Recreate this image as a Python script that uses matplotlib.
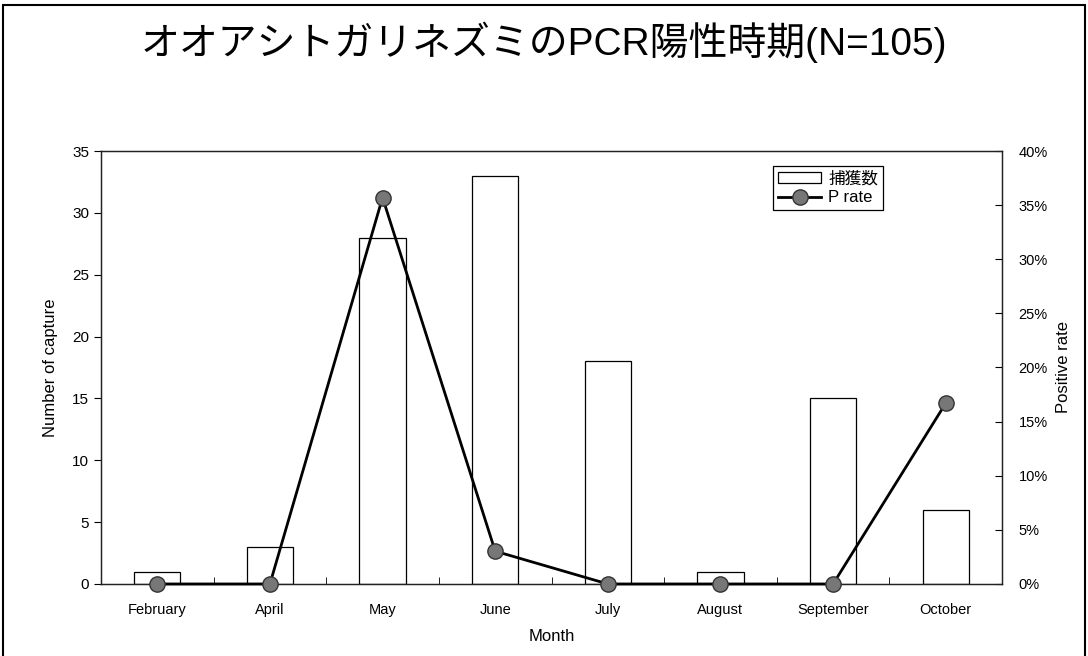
import matplotlib
matplotlib.use("Agg")
import matplotlib.pyplot as plt
from matplotlib.ticker import FixedLocator, PercentFormatter
import numpy as np

plt.rcParams['font.family'] = ['Liberation Sans', 'Noto Sans CJK JP', 'DejaVu Sans']

months = ["February", "April", "May", "June", "July", "August", "September", "October"]
captures = [1, 3, 28, 33, 18, 1, 15, 6]
positive_rate = [0.0, 0.0, 35.7, 3.03, 0.0, 0.0, 0.0, 16.7]
title = "オオアシトガリネズミのPCR陽性時期(N=105)"

fig = plt.figure(figsize=(10.88, 6.56), dpi=100)
ax = fig.add_axes([0.0928, 0.1098, 0.921 - 0.0928, 0.7698 - 0.1098])
x = np.arange(len(months))
bars = ax.bar(x, captures, width=0.41, facecolor="white", edgecolor="black",
              linewidth=0.9, label="捕獲数", zorder=2)
ax.set_xlim(-0.5, len(months) - 0.5)
ax.set_ylim(0, 35)
ax.set_yticks(np.arange(0, 36, 5))
ax.set_xticks(x)
ax.set_xticklabels(months, fontsize=10.5)
ax.xaxis.set_minor_locator(FixedLocator(np.arange(0.5, len(months) - 1, 1)))
ax.tick_params(axis='x', which='major', length=0, pad=14)
ax.tick_params(axis='x', which='minor', direction='in', length=5)
ax.tick_params(axis='y', direction='out', length=5, labelsize=11)
ax.set_xlabel("Month", fontsize=12, labelpad=8)
ax.set_ylabel("Number of capture", fontsize=12, labelpad=10)

ax2 = ax.twinx()
line, = ax2.plot(x, positive_rate, color="black", linewidth=2, marker="o",
                 markersize=11, markerfacecolor="#777777", markeredgecolor="#333333",
                 label="P rate", zorder=3, clip_on=False)
ax2.set_ylim(0, 40)
ax2.set_yticks(np.arange(0, 41, 5))
ax2.yaxis.set_major_formatter(PercentFormatter(decimals=0))
ax2.tick_params(axis='y', direction='in', length=5, labelsize=10.5, pad=12)
ax2.set_ylabel("Positive rate", fontsize=12, labelpad=6)

for a in (ax, ax2):
    for s in a.spines.values():
        s.set_linewidth(0.9)
        s.set_color("#222222")

leg = ax2.legend([bars, line], ["捕獲数", "P rate"], loc="upper right",
                 bbox_to_anchor=(0.877, 0.985), fontsize=12, frameon=True,
                 fancybox=False, edgecolor="black", framealpha=1,
                 handlelength=2.6, borderpad=0.3, labelspacing=0.25,
                 handletextpad=0.4)
leg.get_frame().set_linewidth(0.9)

fig.text(0.5, 0.935, title, ha="center", va="center", fontsize=28)

# figure border
fig.patches.append(plt.Rectangle((0.003, -0.01), 0.994, 1.002, transform=fig.transFigure,
                                 fill=False, edgecolor="black", linewidth=1.5))

fig.savefig("out.png", dpi=100)
